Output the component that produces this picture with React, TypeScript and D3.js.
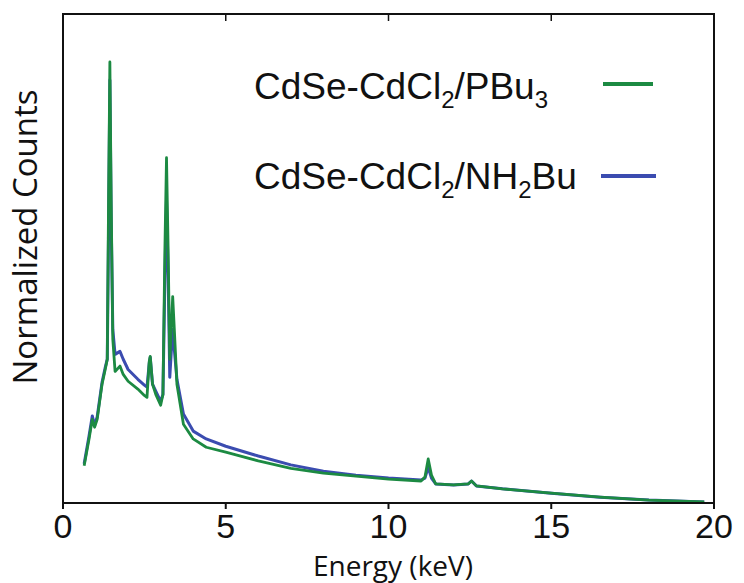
import React from "react";
import * as d3 from "d3";

// energy axis (keV) shared by both spectra
const energy = [
  0.65, 0.8, 0.9, 0.97, 1.05, 1.2, 1.3, 1.36, 1.4, 1.44, 1.48, 1.53, 1.6, 1.75, 1.85, 2.0,
  2.3, 2.5, 2.58, 2.65, 2.68, 2.75, 2.85, 3.0, 3.07, 3.13, 3.18, 3.23, 3.28, 3.34, 3.37,
  3.42, 3.5, 3.7, 4.0, 4.4, 5.0, 6.0, 7.0, 8.0, 9.0, 10.0, 11.0, 11.12, 11.22, 11.32,
  11.45, 12.0, 12.45, 12.55, 12.7, 13.5, 15.0, 16.5, 18.0, 19.7,
];

// CdSe-CdCl2/PBu3
const pbu3 = [
  0.076, 0.131, 0.171, 0.155, 0.171, 0.243, 0.274, 0.294, 0.62, 0.902, 0.62, 0.335, 0.269,
  0.28, 0.263, 0.249, 0.233, 0.22, 0.216, 0.29, 0.3, 0.243, 0.222, 0.2, 0.222, 0.518, 0.706,
  0.518, 0.294, 0.376, 0.422, 0.355, 0.243, 0.161, 0.131, 0.114, 0.104, 0.086, 0.071, 0.061,
  0.055, 0.049, 0.045, 0.053, 0.09, 0.057, 0.039, 0.037, 0.039, 0.045, 0.035, 0.029, 0.02,
  0.012, 0.006, 0.002,
];

// CdSe-CdCl2/NH2Bu
const nh2bu = [
  0.08, 0.137, 0.178, 0.159, 0.176, 0.247, 0.278, 0.294, 0.559, 0.865, 0.58, 0.355, 0.304,
  0.31, 0.294, 0.273, 0.253, 0.241, 0.237, 0.286, 0.298, 0.243, 0.229, 0.208, 0.222, 0.457,
  0.62, 0.467, 0.257, 0.325, 0.355, 0.314, 0.253, 0.182, 0.147, 0.131, 0.116, 0.096, 0.078,
  0.065, 0.057, 0.051, 0.047, 0.051, 0.073, 0.051, 0.039, 0.037, 0.039, 0.045, 0.035, 0.029,
  0.02, 0.012, 0.006, 0.002,
];

const xTicks = [0, 5, 10, 15, 20];

const GREEN = "#1c8a42";
const BLUE = "#3b4cb0";

const width = 744;
const height = 583;
const left = 63;
const right = 714;
const top = 14;
const bottom = 503;

export default function App() {
  const x = d3.scaleLinear().domain([0, 20]).range([left, right]);
  const y = d3.scaleLinear().domain([0, 1]).range([bottom, top]);

  const line = d3
    .line<number>()
    .x((_, i) => x(energy[i]))
    .y((d) => y(d));

  const font = "'Liberation Sans', Arial, sans-serif";
  const titleFont = "'Open Sans', sans-serif";

  return (
    <svg
      width={width}
      height={height}
      style={{ position: "absolute", left: 0, top: 0, background: "#fff" }}
      fontFamily={font}
    >
      {/* spectra */}
      <path d={line(nh2bu) || undefined} fill="none" stroke={BLUE} strokeWidth={3} strokeLinejoin="round" />
      <path d={line(pbu3) || undefined} fill="none" stroke={GREEN} strokeWidth={2.8} strokeLinejoin="round" />

      {/* frame */}
      <rect x={left} y={top} width={right - left} height={bottom - top} fill="none" stroke="#111" strokeWidth={2} />

      {/* ticks */}
      {xTicks.map((t) => (
        <g key={t}>
          <line x1={x(t)} x2={x(t)} y1={bottom} y2={bottom + 6} stroke="#111" strokeWidth={2} />
          {t > 0 && t < 20 && (
            <line x1={x(t)} x2={x(t)} y1={top} y2={top + 7} stroke="#111" strokeWidth={1.5} />
          )}
          <text x={x(t)} y={538} textAnchor="middle" fontSize={34} fill="#111">
            {t}
          </text>
        </g>
      ))}

      {/* axis titles */}
      <text
        x={393}
        y={576}
        textAnchor="middle"
        fontSize={28}
        fill="#111"
        fontFamily={titleFont}
      >
        Energy (keV)
      </text>
      <text
        transform={`translate(37, 237) rotate(-90)`}
        textAnchor="middle"
        fontSize={33}
        fill="#111"
        fontFamily={titleFont}
      >
        Normalized Counts
      </text>

      {/* legend */}
      <text x={254} y={99} fontSize={37} fill="#111">
        CdSe-CdCl
        <tspan fontSize={24} dy={9}>2</tspan>
        <tspan dy={-9}>/PBu</tspan>
        <tspan fontSize={24} dy={9}>3</tspan>
      </text>
      <line x1={603} x2={653} y1={84} y2={84} stroke={GREEN} strokeWidth={4} />

      <text x={254} y={189} fontSize={37} fill="#111">
        CdSe-CdCl
        <tspan fontSize={24} dy={9}>2</tspan>
        <tspan dy={-9}>/NH</tspan>
        <tspan fontSize={24} dy={9}>2</tspan>
        <tspan dy={-9}>Bu</tspan>
      </text>
      <line x1={601} x2={656} y1={176} y2={176} stroke={BLUE} strokeWidth={4} />
    </svg>
  );
}
